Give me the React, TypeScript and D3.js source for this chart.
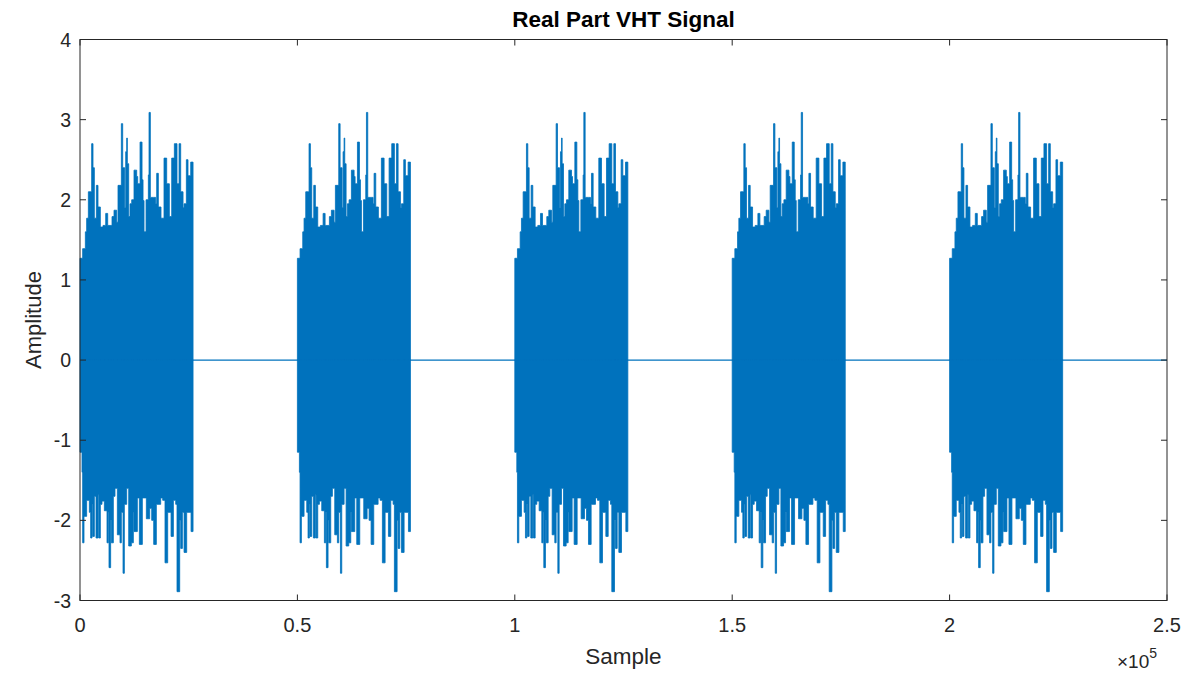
import React from "react";
import * as d3 from "d3";

// One VHT packet (all five bursts are identical).
// offsets in samples from the start of the burst, values = amplitude
const burstStarts = [0, 50000, 100000, 150000, 200000];
const burstLength = 26000;
const totalSamples = 250000;

const topOffsets = [0, 610, 1230, 1530, 1920, 2530, 2680, 2990, 3300, 3760, 4140, 4680, 5290, 5910, 6370, 7360, 7820, 8440, 8740, 9510, 9820, 10280, 10510, 10740, 10890, 11200, 11500, 11890, 12420, 13040, 13270, 13810, 14270, 14500, 14730, 15190, 15720, 15880, 16180, 16950, 17410, 17640, 18020, 18630, 19320, 19940, 20550, 21090, 21700, 22310, 22780, 23160, 23700, 23930, 24460, 24840, 25460];
const topValues = [1.27, 1.39, 1.6, 1.77, 2.1, 2.1, 2.7, 2.4, 1.77, 2.18, 1.91, 1.66, 1.68, 1.83, 1.68, 1.79, 1.87, 1.72, 2.18, 2.95, 2.4, 1.9, 2.6, 2.77, 2.45, 1.79, 1.95, 2.0, 2.37, 2.29, 2.2, 2.72, 2.25, 1.99, 1.6, 2.0, 2.31, 3.09, 2.03, 2.03, 1.95, 2.33, 1.91, 1.77, 2.52, 2.2, 1.79, 2.52, 2.7, 2.2, 2.7, 2.1, 1.9, 1.95, 2.5, 2.3, 2.47];

const bottomOffsets = [0, 460, 610, 920, 1530, 2150, 2450, 2760, 2910, 3300, 3680, 4140, 4300, 4680, 5060, 5600, 6210, 6520, 6670, 7050, 7210, 7670, 8050, 8590, 9200, 9510, 9900, 10200, 10740, 11200, 11810, 12270, 12420, 13190, 13650, 14340, 15260, 16030, 16490, 16950, 17560, 18560, 19020, 19550, 20170, 20940, 21480, 22010, 22310, 22930, 23160, 23550, 23930, 24540, 25540];
const bottomValues = [-1.15, -1.4, -2.28, -1.95, -1.75, -1.9, -2.22, -1.8, -2.2, -1.7, -2.22, -1.68, -2.22, -1.8, -1.76, -1.88, -2.28, -1.9, -2.59, -2.0, -2.28, -1.7, -1.6, -2.18, -2.28, -1.9, -2.66, -1.8, -1.6, -2.32, -2.28, -1.9, -2.14, -1.72, -2.3, -1.72, -1.98, -1.85, -2.0, -2.3, -1.8, -1.72, -1.75, -2.53, -1.9, -2.2, -1.75, -1.8, -2.89, -2.0, -2.35, -1.9, -2.4, -1.9, -2.14];

const xTicks = [0, 50000, 100000, 150000, 200000, 250000];
const xTickLabels = ["0", "0.5", "1", "1.5", "2", "2.5"];
const yTicks = [-3, -2, -1, 0, 1, 2, 3, 4];

const W = 1201;
const H = 673;
const M = { left: 80, right: 1167, top: 39.5, bottom: 600.5 };
const BLUE = "#0072BD";
const AX = "#262626";
const FONT = "'Liberation Sans', Arial, Helvetica, sans-serif";

export default function App() {
  const x = d3.scaleLinear().domain([0, totalSamples]).range([M.left, M.right]);
  const y = d3.scaleLinear().domain([-3, 4]).range([M.bottom, M.top]);

  const mk = (offs: number[], vals: number[], start: number) => {
    const pts = offs.map((o, i) => ({ s: start + o, v: vals[i] }));
    pts.push({ s: start + burstLength, v: vals[vals.length - 1] });
    return d3
      .area<{ s: number; v: number }>()
      .x((d) => x(d.s))
      .y0(y(0))
      .y1((d) => y(d.v))
      .curve(d3.curveStepAfter)(pts) as string;
  };

  const zeroLine = d3
    .line<[number, number]>()
    .x((d) => x(d[0]))
    .y((d) => y(d[1]))([
    [0, 0],
    [totalSamples, 0],
  ]) as string;

  const tl = 6;
  return (
    <svg
      width={W}
      height={H}
      style={{ position: "absolute", left: 0, top: 0, background: "#fff" }}
      fontFamily={FONT}
    >
      <rect x={0} y={0} width={W} height={H} fill="#fff" />
      <path d={zeroLine} stroke={BLUE} strokeWidth={1.2} fill="none" />
      {burstStarts.map((b) => (
        <g key={b}>
          <path d={mk(topOffsets, topValues, b)} fill={BLUE} stroke={BLUE} strokeWidth={0.8} />
          <path d={mk(bottomOffsets, bottomValues, b)} fill={BLUE} stroke={BLUE} strokeWidth={0.8} />
        </g>
      ))}
      <rect
        x={M.left}
        y={M.top}
        width={M.right - M.left}
        height={M.bottom - M.top}
        fill="none"
        stroke={AX}
        strokeWidth={1}
      />
      {xTicks.map((t, i) => (
        <g key={"x" + t}>
          <line x1={x(t)} x2={x(t)} y1={M.bottom} y2={M.bottom - tl} stroke={AX} />
          <line x1={x(t)} x2={x(t)} y1={M.top} y2={M.top + tl} stroke={AX} />
          <text x={x(t)} y={632} textAnchor="middle" fontSize={20} fill={AX}>
            {xTickLabels[i]}
          </text>
        </g>
      ))}
      {yTicks.map((t) => (
        <g key={"y" + t}>
          <line x1={M.left} x2={M.left + tl} y1={y(t)} y2={y(t)} stroke={AX} />
          <line x1={M.right} x2={M.right - tl} y1={y(t)} y2={y(t)} stroke={AX} />
          <text x={71} y={y(t) + 7} textAnchor="end" fontSize={19.5} fill={AX}>
            {t}
          </text>
        </g>
      ))}
      <text x={(M.left + M.right) / 2} y={664} textAnchor="middle" fontSize={22.5} fill={AX}>
        Sample
      </text>
      <text
        transform={`translate(41,${(M.top + M.bottom) / 2}) rotate(-90)`}
        textAnchor="middle"
        fontSize={22}
        fill={AX}
      >
        Amplitude
      </text>
      <text
        x={(M.left + M.right) / 2}
        y={27}
        textAnchor="middle"
        fontSize={22.5}
        fontWeight="bold"
        fill="#000"
      >
        Real Part VHT Signal
      </text>
      <text x={1117} y={668} fontSize={19} fill={AX}>
        ×10
        <tspan dy={-10} fontSize={14}>
          5
        </tspan>
      </text>
    </svg>
  );
}
